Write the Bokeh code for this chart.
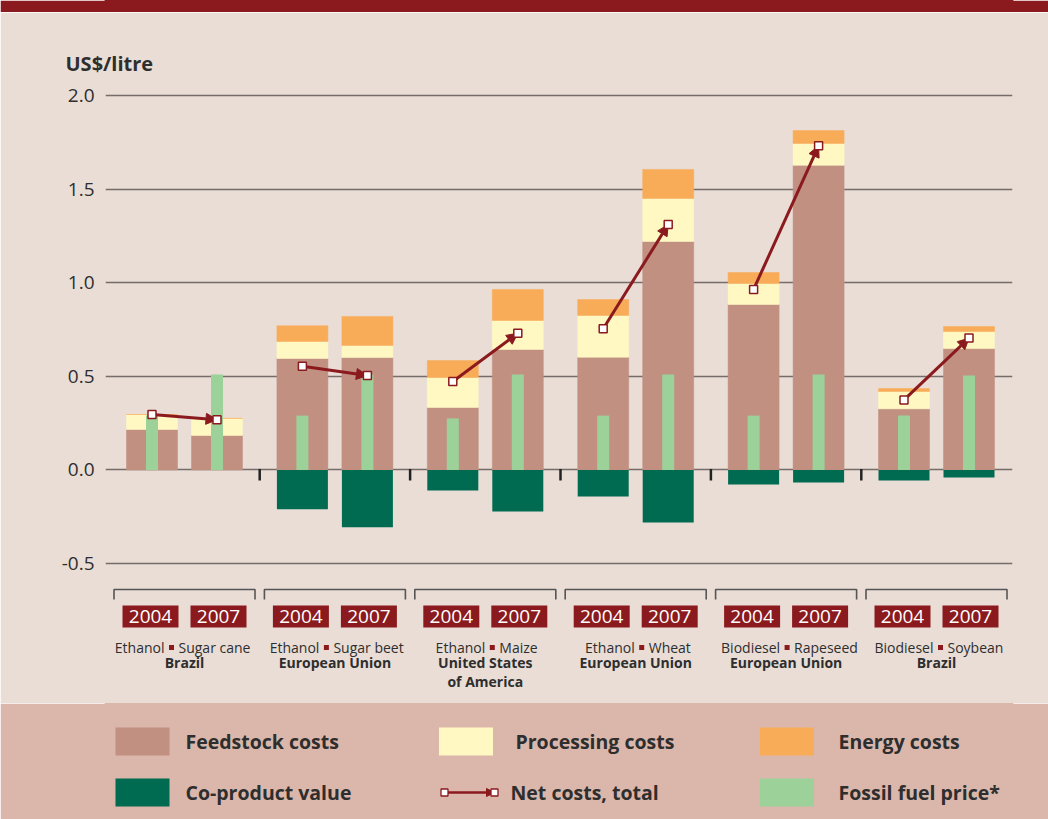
import numpy as np
from bokeh.plotting import figure
from bokeh.models import (ColumnDataSource, Range1d, FixedTicker, NumeralTickFormatter,
                          Arrow, NormalHead, Title)
from bokeh.layouts import column
from bokeh.core.properties import value
from bokeh.embed import file_html
from bokeh.resources import INLINE

# ---------------- data ----------------
fuels = ["Ethanol", "Ethanol", "Ethanol", "Ethanol", "Biodiesel", "Biodiesel"]
crops = ["Sugar cane", "Sugar beet", "Maize", "Wheat", "Rapeseed", "Soybean"]
regions = ["Brazil", "European Union", "United States\nof America",
           "European Union", "European Union", "Brazil"]
years = ["2004", "2007"]

feedstock_2004 = [0.216, 0.595, 0.333, 0.602, 0.884, 0.326]
feedstock_2007 = [0.184, 0.600, 0.643, 1.220, 1.627, 0.648]
processing_2004 = [0.080, 0.091, 0.161, 0.223, 0.112, 0.093]
processing_2007 = [0.091, 0.065, 0.155, 0.230, 0.117, 0.091]
energy_2004 = [0.000, 0.084, 0.090, 0.085, 0.058, 0.016]
energy_2007 = [0.000, 0.155, 0.166, 0.155, 0.069, 0.027]
coproduct_2004 = [0.000, -0.210, -0.110, -0.142, -0.078, -0.057]
coproduct_2007 = [0.000, -0.306, -0.222, -0.281, -0.067, -0.040]
net_2004 = [0.296, 0.554, 0.472, 0.754, 0.964, 0.374]
net_2007 = [0.268, 0.504, 0.730, 1.311, 1.731, 0.704]
fossil_2004 = [0.29, 0.29, 0.275, 0.29, 0.29, 0.29]
fossil_2007 = [0.51, 0.51, 0.51, 0.51, 0.51, 0.504]

y_ticks = [-0.5, 0.0, 0.5, 1.0, 1.5, 2.0]

legend_labels = ["Feedstock costs", "Processing costs", "Energy costs",
                 "Co-product value", "Net costs, total", "Fossil fuel price*"]

# ---------------- style ----------------
FONT = "Open Sans"
RED = "#8B1A1E"
BG = "#E9DDD6"
LEG_BG = "#DBB7AB"
C_FEED = "#C19080"
C_PROC = "#FFF8C2"
C_ENER = "#F9AC58"
C_COPR = "#006B50"
C_FOSS = "#9CD29A"
TXT = "#2E2E2E"

W = 1048
FRAME_L, FRAME_R = 105, 1012          # page x of plot frame
BORDER_L, BORDER_R = FRAME_L, W - FRAME_R

PX_PER_GROUP = 150.4
BAR_OFF = 32.5 / PX_PER_GROUP
BAR_W = 51 / PX_PER_GROUP
FOSSIL_W = 12 / PX_PER_GROUP
BOX_OFF = 34 / PX_PER_GROUP
square_dx_px = [-13, -8.5, 7, 6, 1, 4]

n = len(crops)
gx = np.arange(n, dtype=float)

src = ColumnDataSource(dict(
    x=list(gx - BAR_OFF) + list(gx + BAR_OFF),
    feedstock=feedstock_2004 + feedstock_2007,
    processing=processing_2004 + processing_2007,
    energy=energy_2004 + energy_2007,
    coproduct=coproduct_2004 + coproduct_2007,
    fossil=fossil_2004 + fossil_2007,
    net=net_2004 + net_2007,
))


def panel(fill, **kw):
    return figure(width=W, toolbar_location=None, output_backend="svg",
                  min_border_left=BORDER_L, min_border_right=BORDER_R,
                  background_fill_color=fill, border_fill_color=fill,
                  outline_line_color=fill, outline_line_width=2, **kw)


# ---------------- top band ----------------
BAND_H = 12
band = panel(RED, height=BAND_H, x_axis_location=None, y_axis_location=None,
             min_border_top=0, min_border_bottom=0,
             x_range=Range1d(0, 1), y_range=Range1d(0, 1))
band.grid.visible = False

# ---------------- main chart ----------------
PX_PER_UNIT = 187.2
Y0_PAGE = 469.4
FRAME_TOP = 82
MAIN_BOTTOM = 703
H = MAIN_BOTTOM - BAND_H
ytop = (Y0_PAGE - FRAME_TOP) / PX_PER_UNIT
ybot = (Y0_PAGE - MAIN_BOTTOM) / PX_PER_UNIT
x_start = (FRAME_L - 184) / PX_PER_GROUP
x_end = x_start + (FRAME_R - FRAME_L) / PX_PER_GROUP


def py(page_y):
    return (Y0_PAGE - page_y) / PX_PER_UNIT


p = panel(BG, height=H, x_range=Range1d(x_start, x_end), y_range=Range1d(ybot, ytop),
          x_axis_location=None, y_axis_location="left",
          min_border_top=FRAME_TOP - BAND_H, min_border_bottom=0)

p.add_layout(Title(text="US$/litre", align="left", offset=-40, standoff=11,
                   text_font=FONT, text_font_size="20px", text_font_style="bold",
                   text_color=TXT), "above")

p.xgrid.visible = False
p.ygrid.ticker = FixedTicker(ticks=y_ticks)
p.ygrid.grid_line_color = "#766c6a"
p.ygrid.grid_line_width = 1.6

ax = p.yaxis[0]
ax.ticker = FixedTicker(ticks=y_ticks)
ax.formatter = NumeralTickFormatter(format="0.0")
ax.axis_line_color = None
ax.major_tick_line_color = None
ax.minor_tick_line_color = None
ax.major_label_text_font = FONT
ax.major_label_text_font_size = "19px"
ax.major_label_text_color = TXT
ax.major_label_standoff = 5

p.vbar_stack(["feedstock", "processing", "energy"], x="x", width=BAR_W, source=src,
             fill_color=[C_FEED, C_PROC, C_ENER], line_color=[C_FEED, C_PROC, C_ENER],
             line_width=0.5)
p.vbar(x="x", top=0, bottom="coproduct", width=BAR_W, source=src,
       fill_color=C_COPR, line_color=None)
p.vbar(x="x", top="fossil", bottom=0, width=FOSSIL_W, source=src,
       fill_color=C_FOSS, line_color=None)

arrow_src = ColumnDataSource(dict(x0=gx - BAR_OFF, y0=net_2004, x1=gx + BAR_OFF, y1=net_2007))
p.add_layout(Arrow(end=NormalHead(size=11, fill_color=RED, line_color=RED, line_width=1),
                   x_start="x0", y_start="y0", x_end="x1", y_end="y1", source=arrow_src,
                   line_color=RED, line_width=3))
p.scatter(x="x", y="net", source=src, marker="square", size=8, fill_color="white",
          line_color=RED, line_width=1.5, level="overlay")

# separators on zero line
sep_x = gx[:-1] + 0.5
p.segment(x0=sep_x, y0=[0.005] * len(sep_x), x1=sep_x, y1=[py(480)] * len(sep_x),
          line_color="#222222", line_width=2.5)

# brackets
yb_top, yb_bot = py(589), py(599)
half = 70.5 / PX_PER_GROUP
p.multi_line(xs=[[g - half, g - half, g + half, g + half] for g in gx],
             ys=[[yb_bot, yb_top, yb_top, yb_bot] for _ in gx],
             line_color="#555555", line_width=1.6)

# year boxes
box_x = list(gx - BOX_OFF) + list(gx + BOX_OFF)
box_t = [years[0]] * n + [years[1]] * n
p.rect(x=box_x, y=[py(616)] * (2 * n), width=56, height=22, width_units="screen",
       height_units="screen", fill_color=RED, line_color=None)
p.text(x=box_x, y=[py(616)] * (2 * n), text=box_t, text_align="center",
       text_baseline="middle", text_font=value(FONT), text_font_size="19px",
       text_color="white")

# fuel / crop / region labels
sq_x = gx + np.array(square_dx_px) / PX_PER_GROUP
y_l1 = py(647)
p.text(x=sq_x, y=[y_l1] * n, text=fuels, text_align="right", text_baseline="middle",
       x_offset=-7, text_font=value(FONT), text_font_size="14px", text_color=TXT)
p.text(x=sq_x, y=[y_l1] * n, text=crops, text_align="left", text_baseline="middle",
       x_offset=7, text_font=value(FONT), text_font_size="14px", text_color=TXT)
p.scatter(x=sq_x, y=[y_l1] * n, marker="square", size=5, fill_color=RED, line_color=None)
p.text(x=gx, y=[py(652)] * n, text=regions, text_align="center", text_baseline="top",
       text_font=value(FONT), text_font_size="14px", text_font_style="bold",
       text_color=TXT, text_line_height=1.03)

# ---------------- legend ----------------
LEG_BOTTOM = 819
LH = LEG_BOTTOM - MAIN_BOTTOM
lg = panel(LEG_BG, height=LH, x_range=Range1d(FRAME_L, FRAME_R), y_range=Range1d(0, LH),
           x_axis_location=None, y_axis_location=None,
           min_border_top=0, min_border_bottom=0)
lg.grid.visible = False


def ly(page_y):
    return LEG_BOTTOM - page_y


sw_x = [142, 465.5, 786.5, 142, 786.5]
sw_y = [ly(741)] * 3 + [ly(792)] * 2
sw_c = [C_FEED, C_PROC, C_ENER, C_COPR, C_FOSS]
lg.rect(x=sw_x, y=sw_y, width=54, height=28, fill_color=sw_c, line_color=None)

lab_x = [185, 515, 838, 185, 510, 838]
lab_y = [ly(741)] * 3 + [ly(792)] * 3
lg.text(x=lab_x, y=lab_y, text=legend_labels, text_align="left", text_baseline="middle",
        text_font=value(FONT), text_font_size="19.5px", text_font_style="bold",
        text_color=TXT)

lg.add_layout(Arrow(end=NormalHead(size=8, fill_color=RED, line_color=RED, line_width=1),
                    x_start=444, y_start=ly(792), x_end=494, y_end=ly(792),
                    line_color=RED, line_width=2.5))
lg.scatter(x=[444, 494], y=[ly(792)] * 2, marker="square", size=7, fill_color="white",
           line_color=RED, line_width=1.3, level="overlay")

layout = column(band, p, lg, spacing=0)
open("out.html", "w").write(file_html(layout, INLINE))
